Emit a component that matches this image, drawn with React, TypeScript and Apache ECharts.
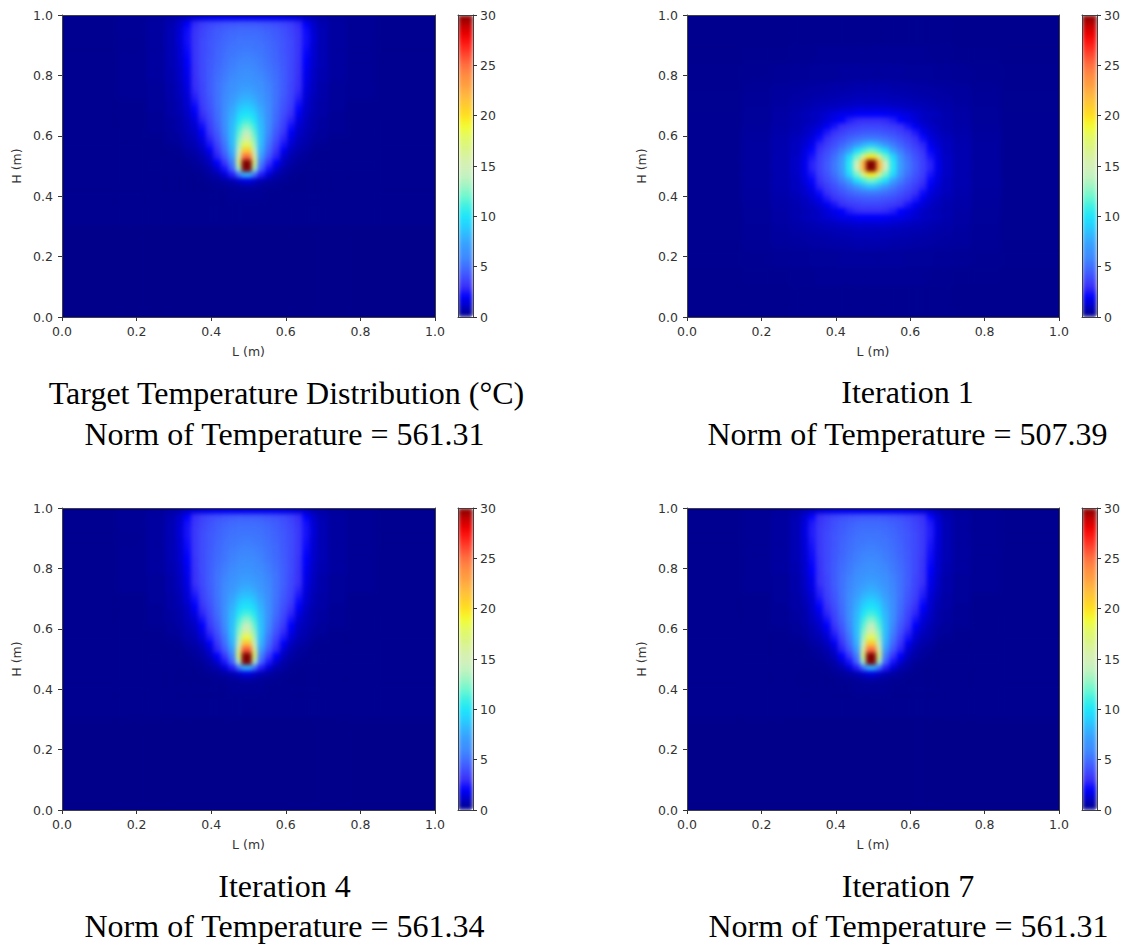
import React, { useEffect, useRef } from "react";
import * as echarts from "echarts";

const COLORMAP = ["#00008b","#0000c0","#0000ff","#3a30f8","#4050ff","#4070ff","#3e8cff","#3a9cff","#32b4ff","#26d0ff","#1ee6fa","#40f0e4","#70f8d0","#a0f5c4","#c4f2c0","#d4f0b8","#d8f2a0","#dcf680","#e4fa60","#f4fc30","#ffe020","#ffcc30","#ffb840","#ffa040","#ff8c40","#ff7040","#ff4830","#ff2018","#f00000","#c00000","#800000"];

// Distances from the heat source (x = 0.495) bounding each column of the tables.
const SOURCE_X = 0.495;
const X_OFFSETS = [0,0.015,0.03,0.05,0.07,0.09,0.11,0.13,0.15,0.17,0.19,0.22,0.27,0.35,0.52];

const PLUME_Y = [1,0.98,0.96,0.94,0.92,0.9,0.88,0.86,0.84,0.82,0.8,0.78,0.76,0.74,0.72,0.7,0.68,0.66,0.64,0.62,0.6,0.58,0.56,0.54,0.52,0.5,0.48,0.46,0.44,0.42,0.38,0.3,0];

const TARGET_ROWS = [
[1.7,1.7,1.7,1.7,1.7,1.6,1.5,1.3,1,0.7,0.5,0.3,0.2,0.1],
[4.3,4.3,4.2,4.1,3.9,3.7,3.4,2.9,1.9,1.2,0.7,0.4,0.2,0.1],
[4.8,4.8,4.7,4.5,4.3,4,3.6,3.1,2.2,1.3,0.8,0.4,0.2,0.1],
[5,5,4.9,4.7,4.4,4.1,3.7,3.2,2.3,1.4,0.8,0.4,0.2,0.1],
[5.2,5.2,5,4.8,4.5,4.2,3.8,3.2,2.3,1.4,0.8,0.4,0.2,0.1],
[5.4,5.3,5.2,4.9,4.6,4.2,3.8,3.2,2.2,1.3,0.8,0.4,0.2,0.1],
[5.6,5.5,5.3,5,4.7,4.2,3.8,3.2,2.1,1.3,0.8,0.4,0.2,0.1],
[5.8,5.7,5.5,5.1,4.7,4.3,3.8,3.2,2,1.2,0.8,0.4,0.2,0.1],
[6,5.9,5.6,5.2,4.8,4.3,3.8,3.1,1.9,1.2,0.8,0.4,0.2,0.1],
[6.3,6.1,5.8,5.4,4.9,4.4,3.8,3.1,1.8,1.1,0.7,0.4,0.2,0.1],
[6.6,6.4,6,5.5,5,4.4,3.8,3,1.7,1.1,0.7,0.4,0.2,0.1],
[6.9,6.7,6.3,5.7,5.1,4.4,3.7,3,1.6,1,0.6,0.3,0.2,0.1],
[7.3,7,6.5,5.8,5.1,4.4,3.7,2.9,1.5,1,0.6,0.3,0.2,0.1],
[7.8,7.4,6.8,5.9,5.1,4.3,3.6,2.7,1.4,0.9,0.6,0.3,0.2,0.1],
[8.4,8,7.1,6,5.1,4.2,3.5,2.4,1.3,0.8,0.5,0.3,0.1,0.1],
[9.2,8.6,7.5,6.1,5,4.1,3.3,2.1,1.2,0.8,0.5,0.3,0.1,0.1],
[10,9.3,7.8,6.2,4.9,3.9,3,1.8,1.1,0.7,0.5,0.2,0.1,0.1],
[11,10,8.1,6.2,4.8,3.7,2.7,1.5,1,0.6,0.4,0.2,0.1,0.1],
[12.3,10.8,8.3,6.1,4.6,3.5,2.3,1.3,0.9,0.6,0.4,0.2,0.1,0.1],
[13.8,11.5,8.4,5.9,4.3,3.2,1.9,1.1,0.8,0.5,0.3,0.2,0.1,0.1],
[15.5,12.3,8.4,5.6,4,2.8,1.6,0.9,0.7,0.4,0.3,0.1,0.1,0.1],
[18,13,8.2,5.2,3.6,2.4,1.3,0.8,0.6,0.3,0.2,0.1,0.1,0.1],
[21,14,7.8,4.8,3.1,1.8,1,0.6,0.4,0.2,0.1,0.1,0.1,0.1],
[25,16,7,4.2,2.7,1.3,0.7,0.4,0.3,0.1,0.1,0.1,0.1,0.1],
[30,17,5.5,3.2,2,1,0.5,0.3,0.2,0.1,0.1,0.1,0.1,0.1],
[30,13,4.5,2.4,1.3,0.6,0.3,0.2,0.1,0.1,0.1,0.1,0.1,0.1],
[8,5,2.6,1.4,0.7,0.4,0.2,0.1,0.1,0.1,0.1,0.1,0.1,0.1],
[1.5,1.2,0.8,0.5,0.3,0.2,0.1,0.1,0.1,0.1,0.1,0.1,0.1,0.1],
[0.5,0.4,0.3,0.2,0.2,0.1,0.1,0.1,0.1,0.1,0.1,0.1,0.1,0.1],
[0.2,0.2,0.2,0.1,0.1,0.1,0.1,0.1,0.1,0.1,0.1,0.1,0.1,0.1],
[0.1,0.1,0.1,0.1,0.1,0.1,0.1,0.1,0.1,0.1,0.1,0.1,0.1,0.1],
[0,0,0,0,0,0,0,0,0,0,0,0,0,0],
];

const ITER4_ROWS = [
[1.7,1.7,1.7,1.7,1.7,1.6,1.5,1.4,1.1,0.7,0.5,0.3,0.2,0.1],
[4.4,4.4,4.3,4.2,4,3.8,3.5,3,2,1.2,0.7,0.4,0.2,0.1],
[4.9,4.9,4.8,4.6,4.4,4.1,3.7,3.2,2.3,1.3,0.8,0.4,0.2,0.1],
[5.1,5.1,5,4.8,4.5,4.2,3.8,3.3,2.4,1.4,0.8,0.4,0.2,0.1],
[5.3,5.3,5.1,4.9,4.6,4.3,3.9,3.3,2.4,1.4,0.8,0.4,0.2,0.1],
[5.5,5.4,5.3,5,4.7,4.3,3.9,3.3,2.3,1.3,0.8,0.4,0.2,0.1],
[5.7,5.6,5.4,5.1,4.8,4.3,3.9,3.3,2.2,1.3,0.8,0.4,0.2,0.1],
[5.9,5.8,5.6,5.2,4.8,4.4,3.9,3.3,2.1,1.2,0.8,0.4,0.2,0.1],
[6.1,6,5.7,5.3,4.9,4.4,3.9,3.2,2,1.2,0.8,0.4,0.2,0.1],
[6.4,6.2,5.9,5.5,5,4.5,3.9,3.2,1.9,1.1,0.7,0.4,0.2,0.1],
[6.7,6.5,6.1,5.6,5.1,4.5,3.9,3.1,1.8,1.1,0.7,0.4,0.2,0.1],
[7,6.8,6.4,5.8,5.2,4.5,3.8,3.1,1.7,1,0.6,0.3,0.2,0.1],
[7.4,7.1,6.6,5.9,5.2,4.5,3.8,3,1.6,1,0.6,0.3,0.2,0.1],
[7.9,7.5,6.9,6,5.2,4.4,3.7,2.8,1.5,0.9,0.6,0.3,0.2,0.1],
[8.5,8.1,7.2,6.1,5.2,4.3,3.6,2.5,1.4,0.8,0.5,0.3,0.1,0.1],
[9.3,8.7,7.6,6.2,5.1,4.2,3.4,2.2,1.3,0.8,0.5,0.3,0.1,0.1],
[10.1,9.4,7.9,6.3,5,4,3.1,1.9,1.1,0.7,0.5,0.2,0.1,0.1],
[11.1,10.2,8.2,6.3,4.9,3.8,2.8,1.6,1,0.6,0.4,0.2,0.1,0.1],
[12.5,11,8.4,6.2,4.7,3.6,2.4,1.3,0.9,0.6,0.4,0.2,0.1,0.1],
[14,11.7,8.5,6,4.4,3.3,2,1.1,0.8,0.5,0.3,0.2,0.1,0.1],
[15.8,12.5,8.5,5.7,4.1,2.9,1.7,0.9,0.7,0.4,0.3,0.1,0.1,0.1],
[18.5,13.2,8.3,5.3,3.7,2.5,1.4,0.8,0.6,0.3,0.2,0.1,0.1,0.1],
[21.5,14.2,7.9,4.9,3.2,1.9,1,0.6,0.4,0.2,0.1,0.1,0.1,0.1],
[25.5,16.5,7.1,4.3,2.8,1.4,0.7,0.4,0.3,0.1,0.1,0.1,0.1,0.1],
[30,17.5,5.6,3.3,2,1,0.5,0.3,0.2,0.1,0.1,0.1,0.1,0.1],
[30,13.5,4.6,2.5,1.3,0.6,0.3,0.2,0.1,0.1,0.1,0.1,0.1,0.1],
[8,5,2.6,1.4,0.7,0.4,0.2,0.1,0.1,0.1,0.1,0.1,0.1,0.1],
[1.5,1.2,0.8,0.5,0.3,0.2,0.1,0.1,0.1,0.1,0.1,0.1,0.1,0.1],
[0.5,0.4,0.3,0.2,0.2,0.1,0.1,0.1,0.1,0.1,0.1,0.1,0.1,0.1],
[0.2,0.2,0.2,0.1,0.1,0.1,0.1,0.1,0.1,0.1,0.1,0.1,0.1,0.1],
[0.1,0.1,0.1,0.1,0.1,0.1,0.1,0.1,0.1,0.1,0.1,0.1,0.1,0.1],
[0,0,0,0,0,0,0,0,0,0,0,0,0,0],
];

const ITER7_ROWS = [
[1.7,1.7,1.7,1.7,1.7,1.6,1.5,1.4,1.1,0.8,0.5,0.3,0.2,0.1],
[4.3,4.3,4.2,4.1,3.9,3.7,3.4,3,2.1,1.3,0.7,0.4,0.2,0.1],
[4.8,4.8,4.7,4.5,4.3,4,3.6,3.2,2.5,1.4,0.8,0.4,0.2,0.1],
[5,5,4.9,4.7,4.4,4.1,3.7,3.3,2.6,1.5,0.8,0.4,0.2,0.1],
[5.2,5.2,5,4.8,4.5,4.2,3.8,3.3,2.6,1.5,0.8,0.4,0.2,0.1],
[5.4,5.3,5.2,4.9,4.6,4.2,3.8,3.3,2.5,1.4,0.8,0.4,0.2,0.1],
[5.6,5.5,5.3,5,4.7,4.2,3.8,3.3,2.4,1.4,0.8,0.4,0.2,0.1],
[5.8,5.7,5.5,5.1,4.7,4.3,3.8,3.3,2.3,1.3,0.8,0.4,0.2,0.1],
[6,5.9,5.6,5.2,4.8,4.3,3.8,3.2,2.2,1.3,0.8,0.4,0.2,0.1],
[6.3,6.1,5.8,5.4,4.9,4.4,3.8,3.2,2.1,1.2,0.7,0.4,0.2,0.1],
[6.6,6.4,6,5.5,5,4.4,3.8,3.1,2,1.2,0.7,0.4,0.2,0.1],
[6.9,6.7,6.3,5.7,5.1,4.4,3.7,3.1,1.8,1.1,0.6,0.3,0.2,0.1],
[7.3,7,6.5,5.8,5.1,4.4,3.7,3,1.7,1.1,0.6,0.3,0.2,0.1],
[7.8,7.4,6.8,5.9,5.1,4.3,3.6,2.8,1.6,1,0.6,0.3,0.2,0.1],
[8.4,8,7.1,6,5.1,4.2,3.5,2.6,1.4,0.9,0.5,0.3,0.1,0.1],
[9.2,8.6,7.5,6.1,5,4.1,3.3,2.3,1.3,0.8,0.5,0.3,0.1,0.1],
[10,9.3,7.8,6.2,4.9,3.9,3,2,1.2,0.7,0.5,0.2,0.1,0.1],
[11,10,8.1,6.2,4.8,3.7,2.8,1.7,1.1,0.6,0.4,0.2,0.1,0.1],
[12.3,10.8,8.3,6.1,4.6,3.5,2.4,1.4,1,0.6,0.4,0.2,0.1,0.1],
[13.8,11.5,8.4,5.9,4.3,3.2,2,1.2,0.8,0.5,0.3,0.2,0.1,0.1],
[15.5,12.3,8.4,5.6,4,2.8,1.6,1,0.7,0.4,0.3,0.1,0.1,0.1],
[18,13,8.2,5.2,3.6,2.4,1.3,0.8,0.6,0.3,0.2,0.1,0.1,0.1],
[21,14,7.8,4.8,3.1,1.8,1,0.6,0.4,0.2,0.1,0.1,0.1,0.1],
[25,16,7,4.2,2.7,1.3,0.7,0.4,0.3,0.1,0.1,0.1,0.1,0.1],
[30,17,5.5,3.2,2,1,0.5,0.3,0.2,0.1,0.1,0.1,0.1,0.1],
[30,13,4.5,2.4,1.3,0.6,0.3,0.2,0.1,0.1,0.1,0.1,0.1,0.1],
[8,5,2.6,1.4,0.7,0.4,0.2,0.1,0.1,0.1,0.1,0.1,0.1,0.1],
[1.5,1.2,0.8,0.5,0.3,0.2,0.1,0.1,0.1,0.1,0.1,0.1,0.1,0.1],
[0.5,0.4,0.3,0.2,0.2,0.1,0.1,0.1,0.1,0.1,0.1,0.1,0.1,0.1],
[0.2,0.2,0.2,0.1,0.1,0.1,0.1,0.1,0.1,0.1,0.1,0.1,0.1,0.1],
[0.1,0.1,0.1,0.1,0.1,0.1,0.1,0.1,0.1,0.1,0.1,0.1,0.1,0.1],
[0,0,0,0,0,0,0,0,0,0,0,0,0,0],
];

const ITER1_Y = [1,0.9,0.84,0.78,0.76,0.74,0.72,0.7,0.68,0.66,0.64,0.62,0.6,0.58,0.56,0.54,0.52,0.5,0.48,0.46,0.44,0.42,0.4,0.38,0.36,0.34,0.32,0.3,0.28,0.26,0.24,0.22,0.16,0.1,0];

const ITER1_ROWS = [
[0.1,0.1,0.1,0.1,0.1,0.1,0.1,0.1,0.1,0.1,0.1,0.05,0.05,0.05],
[0.2,0.2,0.2,0.2,0.2,0.2,0.2,0.2,0.15,0.15,0.15,0.1,0.1,0.05],
[0.35,0.35,0.35,0.35,0.35,0.3,0.3,0.3,0.3,0.25,0.25,0.2,0.15,0.1],
[0.6,0.6,0.6,0.55,0.5,0.5,0.45,0.45,0.4,0.4,0.35,0.3,0.2,0.1],
[0.7,0.7,0.7,0.65,0.6,0.6,0.55,0.5,0.5,0.45,0.4,0.35,0.22,0.1],
[0.85,0.85,0.85,0.8,0.75,0.7,0.65,0.6,0.55,0.5,0.45,0.38,0.24,0.11],
[1,1,1,0.95,0.9,0.85,0.8,0.75,0.7,0.6,0.55,0.4,0.26,0.12],
[1.4,1.4,1.4,1.3,1.2,1.1,1,0.9,0.8,0.7,0.6,0.45,0.28,0.12],
[2,2,1.9,1.8,1.7,1.5,1.3,1.1,1,0.9,0.7,0.5,0.3,0.13],
[3,3,2.9,2.6,2,1.7,1.4,1.1,0.95,0.8,0.7,0.5,0.3,0.14],
[3.7,3.7,3.5,3.3,3,2.4,1.8,1.4,1.1,0.95,0.7,0.55,0.33,0.14],
[4.4,4.3,4.1,3.9,3.5,3.1,2.5,1.7,1.3,1,0.8,0.6,0.35,0.15],
[5.4,5.3,5,4.6,4.1,3.6,3,2.2,1.5,1.2,0.9,0.65,0.38,0.15],
[8.5,7.8,6.6,5.5,4.7,4,3.4,2.8,1.8,1.3,1,0.7,0.4,0.15],
[12,11,9.6,7.2,5.5,4.5,3.8,3.1,2.1,1.5,1,0.7,0.4,0.15],
[19.5,16.5,12,9.3,6.5,5,4.1,3.4,2.4,1.6,1.1,0.7,0.4,0.15],
[30,22,14.5,10.2,7,5.3,4.3,3.5,2.7,1.7,1.1,0.7,0.4,0.15],
[30,22,14.5,10.2,7,5.3,4.3,3.5,2.7,1.7,1.1,0.7,0.4,0.15],
[19.5,16.5,12,9.3,6.5,5,4.1,3.4,2.4,1.6,1.1,0.7,0.4,0.15],
[12,11,9.6,7.2,5.5,4.5,3.8,3.1,2.1,1.5,1,0.7,0.4,0.15],
[8.5,7.8,6.6,5.5,4.7,4,3.4,2.8,1.8,1.3,1,0.7,0.4,0.15],
[5.4,5.3,5,4.6,4.1,3.6,3,2.2,1.5,1.2,0.9,0.65,0.38,0.15],
[4.4,4.3,4.1,3.9,3.5,3.1,2.5,1.7,1.3,1,0.8,0.6,0.35,0.15],
[3.7,3.7,3.5,3.3,3,2.4,1.8,1.4,1.1,0.95,0.7,0.55,0.33,0.14],
[3,3,2.9,2.6,2,1.7,1.4,1.1,0.95,0.8,0.7,0.5,0.3,0.14],
[2,2,1.9,1.8,1.7,1.5,1.3,1.1,1,0.9,0.7,0.5,0.3,0.13],
[1.4,1.4,1.4,1.3,1.2,1.1,1,0.9,0.8,0.7,0.6,0.45,0.28,0.12],
[1,1,1,0.95,0.9,0.85,0.8,0.75,0.7,0.6,0.55,0.4,0.26,0.12],
[0.85,0.85,0.85,0.8,0.75,0.7,0.65,0.6,0.55,0.5,0.45,0.38,0.24,0.11],
[0.7,0.7,0.7,0.65,0.6,0.6,0.55,0.5,0.5,0.45,0.4,0.35,0.22,0.1],
[0.6,0.6,0.6,0.55,0.5,0.5,0.45,0.45,0.4,0.4,0.35,0.3,0.2,0.1],
[0.35,0.35,0.35,0.35,0.35,0.3,0.3,0.3,0.3,0.25,0.25,0.2,0.15,0.1],
[0.2,0.2,0.2,0.2,0.2,0.2,0.2,0.2,0.15,0.15,0.15,0.1,0.1,0.05],
[0.1,0.1,0.1,0.1,0.1,0.1,0.1,0.1,0.1,0.1,0.1,0.05,0.05,0.05],
];

const POSITION_TICKS = [0, 0.2, 0.4, 0.6, 0.8, 1];
const TEMPERATURE_TICKS = [0, 5, 10, 15, 20, 25, 30];
const CAPTION_FIRST = ["Target Temperature Distribution (°C)", "Iteration 1", "Iteration 4", "Iteration 7"];
const CAPTION_SECOND = ["Norm of Temperature = 561.31", "Norm of Temperature = 507.39", "Norm of Temperature = 561.34", "Norm of Temperature = 561.31"];

const PANELS = [
  { rows: TARGET_ROWS, yEdges: PLUME_Y, left: 62, top: 15, width: 373, barLeft: 458, capX1: 286.5, capX2: 284.5, capY1: 393, capY2: 434 },
  { rows: ITER1_ROWS, yEdges: ITER1_Y, left: 687, top: 15, width: 372, barLeft: 1082, capX1: 907.5, capX2: 907.5, capY1: 392, capY2: 434 },
  { rows: ITER4_ROWS, yEdges: PLUME_Y, left: 62, top: 508, width: 373, barLeft: 458, capX1: 284.5, capX2: 284.5, capY1: 886, capY2: 926 },
  { rows: ITER7_ROWS, yEdges: PLUME_Y, left: 687, top: 508, width: 372, barLeft: 1082, capX1: 908, capX2: 908.5, capY1: 886, capY2: 926 },
];
const PLOT_HEIGHT = 302;
const BAR_WIDTH = 15;
const FRAME = "#404040";
const INK = "#333333";
const TICK_FONT = "DejaVu Sans";

function cellsOf(rows: number[][], yEdges: number[]) {
  const cells: number[][] = [];
  rows.forEach((row, r) => {
    row.forEach((v, c) => {
      const near = X_OFFSETS[c];
      const far = X_OFFSETS[c + 1];
      cells.push([SOURCE_X + near, SOURCE_X + far, yEdges[r + 1], yEdges[r], v]);
      cells.push([SOURCE_X - far, SOURCE_X - near, yEdges[r + 1], yEdges[r], v]);
    });
  });
  return cells;
}

function renderCell(_p: any, api: any) {
  const a = api.coord([api.value(0), api.value(3)]);
  const b = api.coord([api.value(1), api.value(2)]);
  const color = api.visual("color");
  return {
    type: "rect",
    shape: { x: a[0], y: a[1], width: b[0] - a[0], height: b[1] - a[1] },
    style: { fill: color, stroke: color, lineWidth: 0.7 },
  };
}

function buildOption() {
  const grid: any[] = [];
  const xAxis: any[] = [];
  const yAxis: any[] = [];
  const series: any[] = [];
  const visualMap: any[] = [];
  const graphic: any[] = [];
  const line = { show: true, lineStyle: { color: FRAME, width: 1 } };
  const tick = { show: true, length: 4, lineStyle: { color: INK, width: 1 } };
  const label = { show: true, color: INK, fontFamily: TICK_FONT, fontSize: 12.5 };
  const nameStyle = { color: INK, fontFamily: TICK_FONT, fontSize: 12.5 };
  const two = (v: number) => v.toFixed(1);

  PANELS.forEach((p, i) => {
    const g = grid.length;
    grid.push({ show: true, left: p.left, top: p.top, width: p.width, height: PLOT_HEIGHT, backgroundColor: COLORMAP[0], borderWidth: 0 });
    const xIndex = xAxis.length;
    const yIndex = yAxis.length;
    xAxis.push({ type: "value", gridIndex: g, min: 0, max: 1, interval: POSITION_TICKS[1], position: "bottom", z: 6, axisLine: { ...line, onZero: false }, axisTick: tick, splitLine: { show: false }, axisLabel: { ...label, margin: 8, formatter: two }, name: "L (m)", nameLocation: "middle", nameGap: 28, nameTextStyle: nameStyle });
    xAxis.push({ type: "value", gridIndex: g, min: 0, max: 1, position: "top", z: 6, axisLine: { ...line, onZero: false }, axisTick: { show: false }, axisLabel: { show: false }, splitLine: { show: false } });
    yAxis.push({ type: "value", gridIndex: g, min: 0, max: 1, interval: POSITION_TICKS[1], position: "left", z: 6, axisLine: { ...line, onZero: false }, axisTick: tick, splitLine: { show: false }, axisLabel: { ...label, margin: 9, formatter: two }, name: "H (m)", nameLocation: "middle", nameGap: 39, nameTextStyle: nameStyle });
    yAxis.push({ type: "value", gridIndex: g, min: 0, max: 1, position: "right", z: 6, axisLine: { ...line, onZero: false }, axisTick: { show: false }, axisLabel: { show: false }, splitLine: { show: false } });

    series.push({
      type: "custom",
      coordinateSystem: "cartesian2d",
      xAxisIndex: xIndex,
      yAxisIndex: yIndex,
      clip: true,
      silent: true,
      renderItem: renderCell,
      encode: { x: [0, 1], y: [2, 3] },
      data: cellsOf(p.rows, p.yEdges),
    });

    visualMap.push({
      type: "continuous",
      seriesIndex: i,
      dimension: 4,
      min: TEMPERATURE_TICKS[0],
      max: TEMPERATURE_TICKS[TEMPERATURE_TICKS.length - 1],
      calculable: false,
      hoverLink: false,
      realtime: false,
      itemWidth: BAR_WIDTH,
      itemHeight: PLOT_HEIGHT,
      left: p.barLeft,
      top: p.top,
      padding: 0,
      text: ["", ""],
      showLabel: false,
      inRange: { color: COLORMAP },
      z: 4,
    });

    const bg = grid.length;
    grid.push({ left: p.barLeft, top: p.top, width: BAR_WIDTH, height: PLOT_HEIGHT });
    xAxis.push({ type: "value", gridIndex: bg, min: 0, max: 1, position: "bottom", z: 6, axisLine: { ...line, onZero: false }, axisTick: { show: false }, axisLabel: { show: false }, splitLine: { show: false } });
    xAxis.push({ type: "value", gridIndex: bg, min: 0, max: 1, position: "top", z: 6, axisLine: { ...line, onZero: false }, axisTick: { show: false }, axisLabel: { show: false }, splitLine: { show: false } });
    yAxis.push({ type: "value", gridIndex: bg, min: 0, max: 30, interval: TEMPERATURE_TICKS[1], position: "right", z: 6, axisLine: { ...line, onZero: false }, axisTick: tick, splitLine: { show: false }, axisLabel: { ...label, margin: 7 } });
    yAxis.push({ type: "value", gridIndex: bg, min: 0, max: 30, position: "left", z: 6, axisLine: { ...line, onZero: false }, axisTick: { show: false }, axisLabel: { show: false }, splitLine: { show: false } });

    [[CAPTION_FIRST[i], p.capX1, p.capY1], [CAPTION_SECOND[i], p.capX2, p.capY2]].forEach(([t, x, y]) => {
      graphic.push({
        type: "text",
        x: x as number,
        y: y as number,
        style: { text: t as string, fill: "#000000", fontFamily: "Liberation Serif", fontSize: 32, textAlign: "center", textVerticalAlign: "middle" },
      });
    });
  });

  return { animation: false, backgroundColor: "#ffffff", grid, xAxis, yAxis, series, visualMap, graphic };
}

export default function App() {
  const ref = useRef<HTMLDivElement>(null);
  useEffect(() => {
    const chart = echarts.init(ref.current!, undefined, { renderer: "svg" });
    chart.setOption(buildOption() as any);
    const soften = () => {
      ref.current?.querySelectorAll<SVGGElement>("svg g[clip-path]").forEach((g) => {
        g.style.filter = "blur(2.2px)";
      });
    };
    soften();
    chart.on("finished", soften);
    return () => chart.dispose();
  }, []);
  return <div ref={ref} style={{ position: "absolute", left: 0, top: 0, width: 1126, height: 945 }} />;
}
